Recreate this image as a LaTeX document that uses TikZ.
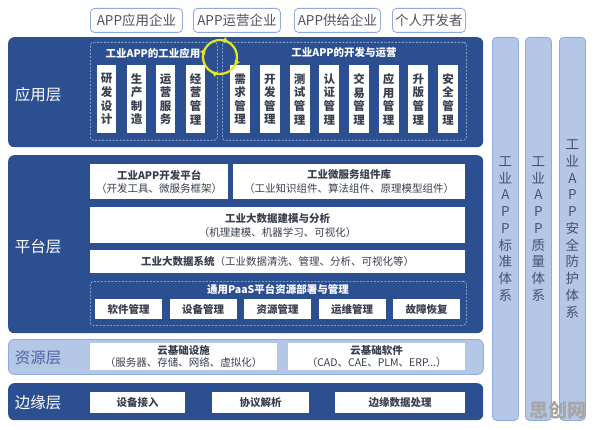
\documentclass[tikz,border=0pt]{standalone}
\usepackage{fontspec}
\setmainfont{Noto Sans CJK SC}
\usetikzlibrary{decorations.markings,arrows.meta}
\definecolor{dkblue}{HTML}{2C4F92}
\definecolor{ltblue}{HTML}{B4C7E7}
\definecolor{ltedge}{HTML}{8FAADC}
\definecolor{txt}{HTML}{3A3F4F}
\definecolor{coltxt}{HTML}{44536F}
\definecolor{reslbl}{HTML}{4A66A0}
\definecolor{cyccol}{HTML}{E6E81E}
\begin{document}
\begin{tikzpicture}[x=1pt,y=-1pt,
  nw/.style={anchor=north west, inner sep=0pt},
  lay/.style={nw, fill=dkblue, rounded corners=6pt},
  laylbl/.style={text=white, font=\fontsize{15.5}{18}\selectfont},
  comp/.style={nw, fill=white, draw=ltedge, line width=0.8pt, rounded corners=4pt, text=txt!90, minimum height=24pt, font=\fontsize{13.5}{16}\selectfont},
  grp/.style={nw, draw=ltblue, dash pattern=on 2pt off 1.5pt, line width=0.6pt, rounded corners=3pt},
  gtitle/.style={text=white, font=\bfseries\fontsize{10.5}{12}\selectfont},
  wb/.style={nw, fill=white, text=txt, align=center},
  tall/.style={wb, minimum height=68pt, font=\bfseries\fontsize{11.5}{13.6}\selectfont},
  plat/.style={wb, font=\fontsize{10.5}{13.5}\selectfont},
  small/.style={wb, minimum height=20pt, font=\bfseries\fontsize{10.5}{12}\selectfont},
  colbox/.style={nw, fill=ltblue, draw=ltedge, line width=0.8pt, rounded corners=4pt, minimum width=26pt, minimum height=383pt, text=coltxt, align=center, font=\fontsize{13.5}{16.75}\selectfont},
  cycarrow/.style={decoration={markings, mark=between positions 0.08 and 1 step 0.25 with {\arrow{Triangle[length=5pt,width=5.5pt]}}}, postaction=decorate}
]
\useasboundingbox (0,0) rectangle (596,430);

% top companies
\node[comp, minimum width=92pt] (c1) at (90,8) {APP应用企业};
\node[comp, minimum width=87pt] (c2) at (193,8) {APP运营企业};
\node[comp, minimum width=86pt] (c3) at (294,8) {APP供给企业};
\node[comp, minimum width=73pt] (c4) at (392,8) {个人开发者};

% application layer
\node[lay, minimum width=475pt, minimum height=110pt] (app) at (8,37) {};
\node[laylbl] (appl) at (38,95) {应用层};
\node[grp, minimum width=127pt, minimum height=98pt] (g1) at (90,42) {};
\node[gtitle] (g1t) at (153,53) {工业APP的工业应用};
\node[grp, minimum width=244pt, minimum height=98pt] (g2) at (222,42) {};
\node[gtitle] (g2t) at (344,53) {工业APP的开发与运营};
\foreach \x/\t/\n in {97/{研\\发\\设\\计}/a1, 127/{生\\产\\制\\造}/a2, 156/{运\\营\\服\\务}/a3, 186/{经\\营\\管\\理}/a4}
  \node[tall, minimum width=19pt] (\n) at (\x,65) {\t};
\foreach \x/\t/\n in {230/{需\\求\\管\\理}/b1, 259.7/{开\\发\\管\\理}/b2, 289.4/{测\\试\\管\\理}/b3, 319.1/{认\\证\\管\\理}/b4, 348.8/{交\\易\\管\\理}/b5, 378.5/{应\\用\\管\\理}/b6, 408.2/{升\\版\\管\\理}/b7, 437.9/{安\\全\\管\\理}/b8}
  \node[tall, minimum width=20pt] (\n) at (\x,65) {\t};

% cycle
\coordinate (cyc) at (220,57);
\draw[cyccol, line width=2.2pt, cycarrow] (cyc) ++(0pt,17pt) arc[start angle=90, end angle=-270, radius=17pt];

% platform layer
\node[lay, minimum width=475pt, minimum height=178pt] (plat) at (8,155) {};
\node[laylbl] (platl) at (38,247) {平台层};
\node[plat, minimum width=138pt, minimum height=35pt] (p1) at (90,164) {{\bfseries 工业APP开发平台}\\（开发工具、微服务框架）};
\node[plat, minimum width=232pt, minimum height=35pt] (p2) at (233,164) {{\bfseries 工业微服务组件库}\\（工业知识组件、算法组件、原理模型组件）};
\node[plat, minimum width=375pt, minimum height=36pt, font=\fontsize{10.5}{14}\selectfont] (p3) at (90,207) {{\bfseries 工业大数据建模与分析}\\（机理建模、机器学习、可视化）};
\node[plat, minimum width=375pt, minimum height=23pt] (p4) at (90,250) {{\bfseries 工业大数据系统}（工业数据清洗、管理、分析、可视化等）};
\node[grp, minimum width=376pt, minimum height=44pt] (g3) at (90,281) {};
\node[gtitle] (g3t) at (278,289.5) {通用PaaS平台资源部署与管理};
\node[small, minimum width=67pt] (s1) at (95,299) {软件管理};
\node[small, minimum width=67pt] (s2) at (169.5,299) {设备管理};
\node[small, minimum width=67pt] (s3) at (244,299) {资源管理};
\node[small, minimum width=67pt] (s4) at (318.5,299) {运维管理};
\node[small, minimum width=67pt] (s5) at (393,299) {故障恢复};

% resource layer
\node[nw, fill=ltblue, draw=ltedge, line width=0.8pt, rounded corners=6pt, minimum width=475pt, minimum height=35pt] (res) at (8,339) {};
\node[laylbl, text=reslbl] (resl) at (38,358) {资源层};
\node[plat, minimum width=187pt, minimum height=27pt, font=\fontsize{10.5}{12}\selectfont] (r1) at (90,343) {{\bfseries 云基础设施}\\（服务器、存储、网络、虚拟化）};
\node[plat, minimum width=177pt, minimum height=27pt, font=\fontsize{10.5}{12}\selectfont] (r2) at (288,343) {{\bfseries 云基础软件}\\（CAD、CAE、PLM、ERP...）};

% edge layer
\node[lay, minimum width=475pt, minimum height=37pt] (edge) at (8,383) {};
\node[laylbl] (edgel) at (38,403) {边缘层};
\node[small, minimum width=95pt, minimum height=21pt] (e1) at (90,392) {设备接入};
\node[small, minimum width=97pt, minimum height=21pt] (e2) at (212,392) {协议解析};
\node[small, minimum width=130pt, minimum height=21pt] (e3) at (335,392) {边缘数据处理};

% columns
\node[colbox] (k1) at (492,37) {工\\业\\A\\P\\P\\标\\准\\体\\系};
\node[colbox] (k2) at (525,37) {工\\业\\A\\P\\P\\质\\量\\体\\系};
\node[colbox] (k3) at (559,37) {工\\业\\A\\P\\P\\安\\全\\防\\护\\体\\系};

% watermark
\node[text=gray!70, font=\bfseries\fontsize{19}{20}\selectfont] (wm) at (558,410) {思创网};
\end{tikzpicture}
\end{document}
